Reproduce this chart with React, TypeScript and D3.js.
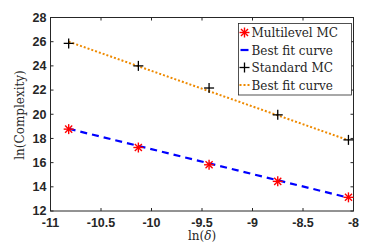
import React from "react";
import * as d3 from "d3";

const lnDelta = [-10.82, -10.13, -9.43, -8.75, -8.05];
const multilevelMC = [18.77, 17.25, 15.82, 14.45, 13.13];
const standardMC = [25.86, 24.0, 22.17, 19.95, 17.88];
const fitX = [-10.82, -8.05];
const fitMultilevel = [18.8, 13.1];
const fitStandard = [26.0, 17.85];
const xTicks = [-11, -10.5, -10, -9.5, -9, -8.5, -8];
const yTicks = [12, 14, 16, 18, 20, 22, 24, 26, 28];
const legendLabels = ["Multilevel MC", "Best fit curve", "Standard MC", "Best fit curve"];

const W = 390, H = 246;
const L = 50.5, R = 353.5, T = 17.5, B = 211;

export default function App() {
  const x = d3.scaleLinear().domain([-11, -8]).range([L, R]);
  const y = d3.scaleLinear().domain([12, 28]).range([B, T]);
  const line = d3.line<[number, number]>().x(d => x(d[0])).y(d => y(d[1]));
  const fitML = line(fitX.map((v, i) => [v, fitMultilevel[i]] as [number, number])) || "";
  const fitSt = line(fitX.map((v, i) => [v, fitStandard[i]] as [number, number])) || "";

  const star = (cx: number, cy: number, k: string) => {
    const r = 5;
    const segs = [0, 45, 90, 135].map(a => {
      const rad = (a * Math.PI) / 180;
      return (
        <line key={k + a} x1={cx - r * Math.cos(rad)} y1={cy - r * Math.sin(rad)}
          x2={cx + r * Math.cos(rad)} y2={cy + r * Math.sin(rad)} stroke="#ff0000" strokeWidth={1.4} />
      );
    });
    return <g key={k}>{segs}</g>;
  };
  const plus = (cx: number, cy: number, k: string) => {
    const r = 5;
    return (
      <g key={k}>
        <line x1={cx - r} y1={cy} x2={cx + r} y2={cy} stroke="#000" strokeWidth={1.3} />
        <line x1={cx} y1={cy - r} x2={cx} y2={cy + r} stroke="#000" strokeWidth={1.3} />
      </g>
    );
  };

  const tickFont = "'Liberation Sans', Arial, sans-serif";
  const serif = "'DejaVu Serif', serif";
  const lgX = 238.5, lgY = 23.5, lgW = 113, lgH = 71.5;
  const rowY = (i: number) => lgY + 9 + i * 17.5;

  return (
    <svg width={W} height={H} style={{ position: "absolute", left: 0, top: 0 }}>
      <rect x={0} y={0} width={W} height={H} fill="#fff" />
      {xTicks.map(t => (
        <g key={"xt" + t}>
          <line x1={x(t)} x2={x(t)} y1={B} y2={B - 3} stroke="#262626" />
          <line x1={x(t)} x2={x(t)} y1={T} y2={T + 3} stroke="#262626" />
          <text x={x(t)} y={B + 16} textAnchor="middle" fontFamily={tickFont} fontWeight="bold" fontSize={12.5} fill="#262626">{t}</text>
        </g>
      ))}
      {yTicks.map(t => (
        <g key={"yt" + t}>
          <line x1={L} x2={L + 3} y1={y(t)} y2={y(t)} stroke="#262626" />
          <line x1={R} x2={R - 3} y1={y(t)} y2={y(t)} stroke="#262626" />
          <text x={L - 4} y={y(t) + 4.3} textAnchor="end" fontFamily={tickFont} fontWeight="bold" fontSize={12.5} fill="#262626">{t}</text>
        </g>
      ))}
      <rect x={L} y={T} width={R - L} height={B - T} fill="none" stroke="#262626" strokeWidth={1} />
      <path d={fitSt} fill="none" stroke="#ee8a00" strokeWidth={2} strokeDasharray="2,2" />
      <path d={fitML} fill="none" stroke="#0000ff" strokeWidth={2.2} strokeDasharray="7,5" />
      {lnDelta.map((v, i) => plus(x(v), y(standardMC[i]), "p" + i))}
      {lnDelta.map((v, i) => star(x(v), y(multilevelMC[i]), "s" + i))}
      <text x={202} y={240} textAnchor="middle" fontFamily={serif} fontSize={12} fill="#262626">ln(<tspan fontStyle="italic">δ</tspan>)</text>
      <text transform="translate(24,115) rotate(-90)" textAnchor="middle" fontFamily={serif} fontSize={12} fill="#262626">ln(Complexity)</text>
      <rect x={lgX} y={lgY} width={lgW} height={lgH} fill="#fff" stroke="#262626" strokeWidth={0.8} />
      {star(lgX + 6, rowY(0), "ls")}
      <line x1={lgX + 2} x2={lgX + 10} y1={rowY(1)} y2={rowY(1)} stroke="#0000ff" strokeWidth={2.2} />
      {plus(lgX + 6, rowY(2), "lp")}
      <line x1={lgX + 1} x2={lgX + 11} y1={rowY(3)} y2={rowY(3)} stroke="#ee8a00" strokeWidth={2} strokeDasharray="2,2" />
      {legendLabels.map((s, i) => (
        <text key={"lg" + i} x={lgX + 13} y={rowY(i) + 4.5} fontFamily={serif} fontSize={12} fill="#262626">{s}</text>
      ))}
    </svg>
  );
}
